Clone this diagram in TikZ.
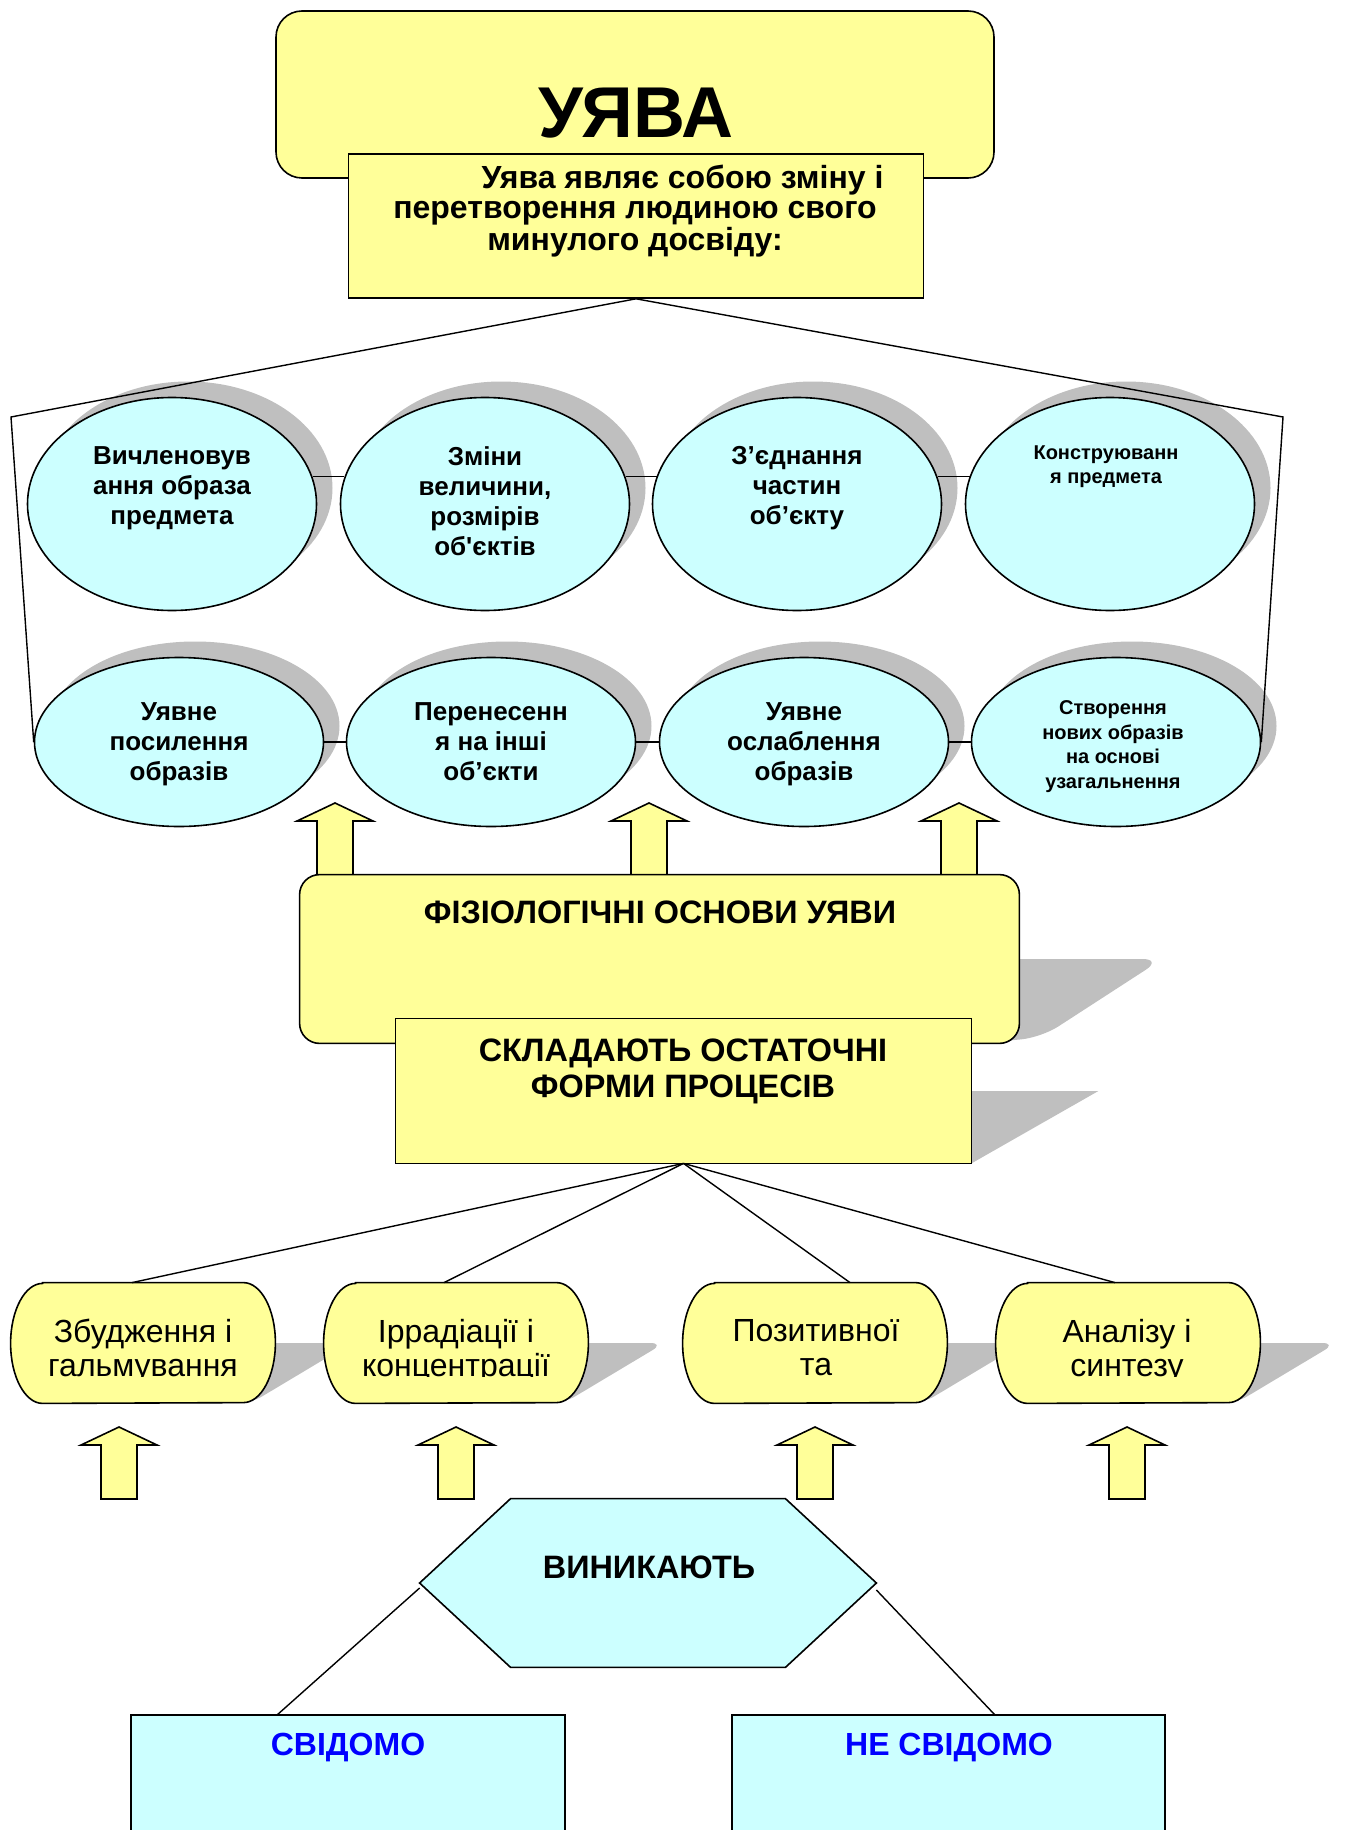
\documentclass[tikz,border=0pt]{standalone}
\usepackage{fontspec}
\setmainfont{Liberation Sans}[Ligatures=TeXOff]
\usetikzlibrary{calc,shapes.geometric,shadows}
\definecolor{yel}{HTML}{FFFF99}
\definecolor{cyn}{HTML}{CCFFFF}
\definecolor{shd}{HTML}{BFBFBF}
\definecolor{blu}{HTML}{0000FF}
\newcommand{\yarrow}[3]{\draw[arrowbox] (#1,#2) -- (#1+38,#2+18) -- (#1+18,#2+18) -- (#1+18,#3) -- (#1-18,#3) -- (#1-18,#2+18) -- (#1-38,#2+18) -- cycle;}
\newcommand{\pillpath}[1]{\draw[lw,fill=yel] ($(#1.north west)+(32,0)$) -- ($(#1.north east)+(-32,0)$) arc[start angle=90,end angle=-90,x radius=16pt,y radius=30pt] -- ($(#1.south west)+(32,0)$) arc[start angle=270,end angle=90,x radius=16pt,y radius=30pt] -- cycle;}
\newcommand{\pillshadow}[1]{\fill[shd,rounded corners=7pt] (#1.center) -- ($(#1.east)+(76,0)$) -- ($(#1.south east)+(-25,0)$) -- (#1.south) -- cycle;}
\begin{document}
\begin{tikzpicture}[x=0.5pt,y=-0.5pt,
  lw/.style={line width=0.8pt},
  conn/.style={line width=0.7pt},
  arrowbox/.style={lw,fill=yel,line join=miter},
  ybox/.style={draw,lw,fill=yel,inner sep=0,rectangle},
  ell/.style={ellipse,draw,lw,fill=cyn,inner sep=0,minimum width=144.5pt,
    drop shadow={shadow xshift=8pt,shadow yshift=8pt,fill=shd,opacity=1}},
  pillbox/.style={rectangle,inner sep=0,minimum width=132pt,minimum height=60pt},
  et/.style={font=\bfseries\fontsize{13}{15}\selectfont,align=center,anchor=north,inner sep=0},
  es/.style={font=\bfseries\fontsize{10}{12.4}\selectfont,align=center,anchor=north,inner sep=0},
  bt/.style={font=\bfseries\fontsize{16.2}{18}\selectfont,align=center,anchor=north,inner sep=0},
  ptext/.style={font=\fontsize{16}{17}\selectfont,align=center,anchor=north,inner sep=0},
  ct/.style={font=\bfseries\fontsize{16}{18}\selectfont,text=blu,anchor=north,inner sep=0}]
\useasboundingbox (0,0) rectangle (1345,1830);

% ---- title block
\node[ybox,rounded corners=13pt,minimum width=359pt,minimum height=83.5pt] (top) at (635,94.5) {};
\node[font=\bfseries\fontsize{36}{40}\selectfont,anchor=north,inner sep=0] (ttl) at (636,88) {УЯВА};
\node[ybox,minimum width=287.5pt,minimum height=72pt] (inner) at (636,226) {};
\node[font=\bfseries\fontsize{16}{14.9}\selectfont,align=center,anchor=north,inner sep=0] (tinner) at (635,165)
  {\hspace*{47.5pt}Уява являє собою зміну і\\перетворення людиною свого\\минулого досвіду:};

% ---- ellipses
\node[ell,minimum height=106.5pt] (e1) at (172,504) {};
\node[ell,minimum height=106.5pt] (e2) at (485,504) {};
\node[ell,minimum height=106.5pt] (e3) at (797,504) {};
\node[ell,minimum height=106.5pt] (e4) at (1110,504) {};
\node[ell,minimum height=84.5pt] (e5) at (179,742) {};
\node[ell,minimum height=84.5pt] (e6) at (491,742) {};
\node[ell,minimum height=84.5pt] (e7) at (804,742) {};
\node[ell,minimum height=84.5pt] (e8) at (1116,742) {};

\node[et] (t1) at (172,446) {Вичленовув\\ання образа\\предмета};
\node[et] (t2) at (485,446) {Зміни\\величини,\\розмірів\\об'єктів};
\node[et] (t3) at (797,446) {З’єднання\\частин\\об’єкту};
\node[es] (t4) at (1106,445) {Конструюванн\\я предмета};
\node[et] (t5) at (179,702) {Уявне\\посилення\\образів};
\node[et] (t6) at (491,702) {Перенесенн\\я на інші\\об’єкти};
\node[et] (t7) at (804,702) {Уявне\\ослаблення\\образів};
\node[es] (t8) at (1113,700) {Створення\\нових образів\\на основі\\узагальнення};

\draw[conn] (e1.11) -- (e2.169);
\draw[conn] (e2.11) -- (e3.169);
\draw[conn] (e3.11) -- (e4.169);
\draw[conn] (e5.east) -- (e6.west);
\draw[conn] (e6.east) -- (e7.west);
\draw[conn] (e7.east) -- (e8.west);

\coordinate (bl) at (11,417);
\coordinate (br) at (1283,417);
\draw[conn] (inner.south) -- (bl) -- (e5.west);
\draw[conn] (inner.south) -- (br) -- (e8.east);

% ---- upper arrows
\yarrow{335}{803}{878}
\yarrow{649}{803}{878}
\yarrow{959}{803}{878}

% ---- physiological block
\node[rectangle,inner sep=0,minimum width=359.5pt,minimum height=84pt] (fiz) at (659.5,959) {};
\fill[shd,rounded corners=10pt] ($(fiz.east)+(-40,0)$) -- ($(fiz.east)+(143,0)$) -- ($(fiz.south east)+(22,-6)$) -- ($(fiz.south east)+(-40,0)$) -- cycle;
\draw[lw,fill=yel,rounded corners=10pt] (fiz.north west) rectangle (fiz.south east);
\node[bt] (tfiz) at (660,900) {ФІЗІОЛОГІЧНІ ОСНОВИ УЯВИ};

\node[rectangle,inner sep=0,minimum width=287.5pt,minimum height=72pt] (skl) at (683.5,1091) {};
\fill[shd] ($(skl.east)+(-30,0)$) -- ($(skl.east)+(127,0)$) -- (skl.south east) -- ($(skl.south east)+(-30,0)$) -- cycle;
\draw[lw,fill=yel] (skl.north west) rectangle (skl.south east);
\node[bt] (tskl) at (683,1038) {СКЛАДАЮТЬ ОСТАТОЧНІ\\ФОРМИ ПРОЦЕСІВ};

% ---- pills
\node[pillbox] (p1) at (143,1343) {};
\node[pillbox] (p2) at (456,1343) {};
\node[pillbox] (p3) at (815,1343) {};
\node[pillbox] (p4) at (1128,1343) {};
\pillshadow{p1}\pillshadow{p2}\pillshadow{p3}\pillshadow{p4}
\pillpath{p1}\pillpath{p2}\pillpath{p3}\pillpath{p4}

\draw[conn] (skl.south) -- ($(p1.north)+(-11,0)$);
\draw[conn] (skl.south) -- ($(p2.north)+(-12,0)$);
\draw[conn] (skl.south) -- ($(p3.north)+(35,0)$);
\draw[conn] (skl.south) -- ($(p4.north)+(-13,0)$);

\begin{scope}
\clip ($(p1.north west)+(0,0)$) rectangle ($(p4.east)+(0,33)$);
\node[ptext] (tp1) at ($(p1.north)+(0,36)$) {Збудження і\\гальмування};
\node[ptext] (tp2) at ($(p2.north)+(0,36)$) {Іррадіації і\\концентрації};
\node[ptext] (tp3) at ($(p3.north)+(1,36)$) {Позитивної\\та};
\node[ptext] (tp4) at ($(p4.north)+(-1,36)$) {Аналізу і\\синтезу};
\end{scope}

% ---- lower arrows
\yarrow{119}{1427}{1499}
\yarrow{456}{1427}{1499}
\yarrow{815}{1427}{1499}
\yarrow{1127}{1427}{1499}

% ---- hexagon
\node[rectangle,inner sep=0,minimum width=228pt,minimum height=84pt] (hex) at (648,1583) {};
\draw[lw,fill=cyn] ($(hex.north west)+(91,0)$) -- ($(hex.north east)+(-91,0)$) -- (hex.east) -- ($(hex.south east)+(-91,0)$) -- ($(hex.south west)+(91,0)$) -- (hex.west) -- cycle;
\node[bt] (thex) at (649,1555) {ВИНИКАЮТЬ};

% ---- bottom boxes
\node[rectangle,inner sep=0,minimum width=216.5pt,minimum height=100pt,anchor=north west] (r1) at (131,1715) {};
\node[rectangle,inner sep=0,minimum width=216pt,minimum height=100pt,anchor=north west] (r2) at (732,1715) {};
\draw[lw,fill=cyn] (r1.north west) rectangle (r1.south east);
\draw[lw,fill=cyn] (r2.north west) rectangle (r2.south east);
\node[ct] (tr1) at (348,1733) {СВІДОМО};
\node[ct] (tr2) at (949,1733) {НЕ СВІДОМО};

\draw[conn] ($(hex.west)+(0,5)$) -- ($(r1.north west)+(146,0)$);
\draw[conn] ($(hex.east)+(0,7)$) -- ($(r2.north west)+(263,0)$);
\end{tikzpicture}
\end{document}
